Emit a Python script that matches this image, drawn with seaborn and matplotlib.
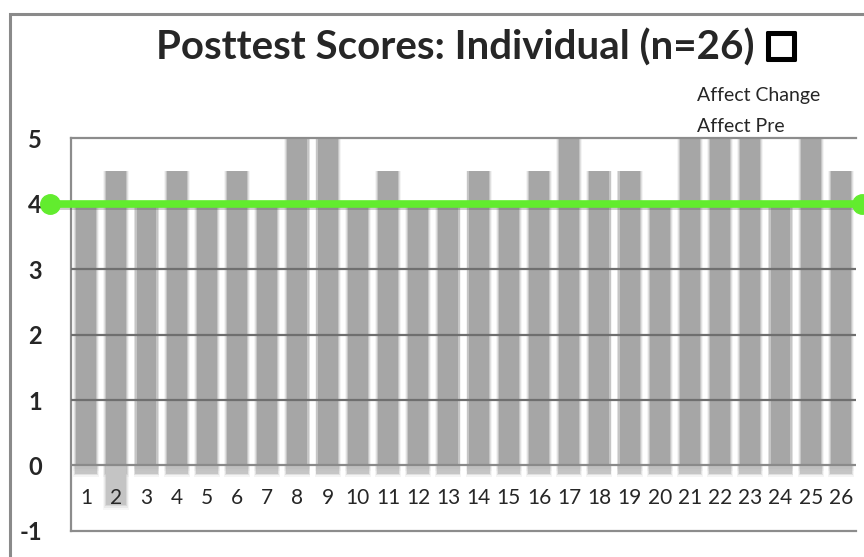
import numpy as np
import pandas as pd
import seaborn as sns
import matplotlib.pyplot as plt
import matplotlib.patches as mpatches
import matplotlib.patheffects as pe

# posttest scores per participant
participants = [str(i) for i in range(1, 27)]
affect_pre = [4, 4.5, 4, 4.5, 4, 4.5, 4, 5, 5, 4, 4.5, 4, 4, 4.5, 4, 4.5, 5, 4.5, 4.5, 4, 5, 5, 5, 4, 5, 4.5]
affect_change = [0, -0.6, 0, 0, 0, 0, 0, 0, 0, 0, 0, 0, 0, 0, 0, 0, 0, 0, 0, 0, 0, 0, 0, 0, 0, 0]
pre_mean_line = [4, 4]
y_ticks = [-1, 0, 1, 2, 3, 4, 5]

df = pd.DataFrame({"participant": participants, "pre": affect_pre, "change": affect_change})

sns.set_style("white")
plt.rcParams["font.family"] = ["Lato", "DejaVu Sans"]

fig = plt.figure(figsize=(8.64, 5.57), dpi=100)
ax = fig.add_axes([0.0822, 0.0467, 0.9085, 0.7055])

bar_grey = "#a6a6a6"
x = np.arange(len(participants))

# soft edges: wider, faint layers behind the solid bar
for w, ext, a in [(0.86, 0.08, 0.12), (0.80, 0.05, 0.25), (0.74, 0.025, 0.45)]:
    ax.bar(x, df["pre"] + ext + 0.1, bottom=-0.1 - ext, width=w, color=bar_grey,
           alpha=a, linewidth=0, zorder=1)
    ax.bar(x, df["change"] - ext, width=w, color="#c4c4c4", alpha=a, linewidth=0, zorder=1)
sns.barplot(data=df, x="participant", y="pre", color=bar_grey, width=0.66,
            saturation=1, linewidth=0, ax=ax, zorder=2)
ax.bar(x, df["change"], width=0.66, color="#c4c4c4", linewidth=0, zorder=2)

# grid lines
for v in [0, 1, 2, 3]:
    ax.axhline(v, color="#6f6f6f" if v else "#8a8a8a", lw=1.6, zorder=3)

# green reference line with dots at the ends
line_x = [-0.027, 1.008]
ax.plot(line_x, [v - 0.04 for v in pre_mean_line], color="#555555", lw=5, alpha=0.3,
        transform=ax.get_yaxis_transform(), clip_on=False, zorder=4)
ax.plot(line_x, pre_mean_line, color="#62ec2e", lw=5.5, marker="o", markersize=14,
        transform=ax.get_yaxis_transform(), clip_on=False, zorder=5)

ax.set_ylim(-1, 5)
ax.set_xlim(-0.5, len(participants) - 0.5)
ax.set_yticks(y_ticks)
ax.set_yticklabels([str(v) for v in y_ticks], fontsize=17, fontweight="bold")
ax.tick_params(axis="y", length=0, pad=21)
ax.tick_params(axis="x", length=0, pad=-31, labelsize=15)
ax.xaxis.set_zorder(6)
ax.set_xlabel("")
ax.set_ylabel("")

for side in ["left", "top", "bottom"]:
    ax.spines[side].set_color("#8c8c8c")
    ax.spines[side].set_linewidth(1.6)
ax.spines["right"].set_visible(False)

fig.text(0.527, 0.914, "Posttest Scores: Individual (n=26)", ha="center", va="center",
         fontsize=29, fontweight="bold")
fig.text(0.904, 0.918, "\u25a1", ha="center", va="center", fontsize=27,
         family="DejaVu Sans", color="black",
         path_effects=[pe.withStroke(linewidth=2.2, foreground="black")])

handles = [mpatches.Patch(color="none", label="Affect Change"),
           mpatches.Patch(color="none", label="Affect Pre")]
fig.legend(handles=handles, loc="upper left", bbox_to_anchor=(0.786, 0.876),
           frameon=False, handlelength=0, handletextpad=0, fontsize=14, labelspacing=0.75)

# outer frame
fig.add_artist(plt.Rectangle((0.011, -0.01), 1.0, 0.985, transform=fig.transFigure,
                             fill=False, edgecolor="#8a8a8a", lw=2.2))

fig.savefig("out.png", dpi=100)
